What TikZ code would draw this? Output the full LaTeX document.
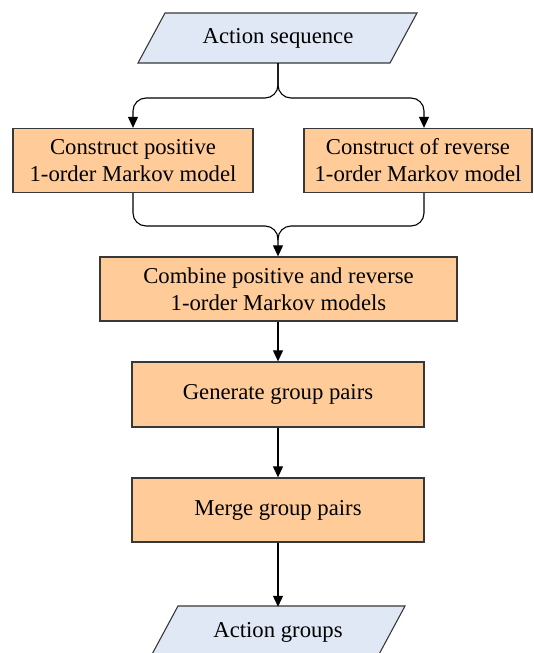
\documentclass[tikz,border=0pt]{standalone}
\usepackage{fontspec}
\setmainfont{Liberation Serif}
\usetikzlibrary{arrows.meta,calc}
\definecolor{boxfill}{HTML}{FFCC99}
\definecolor{iofill}{HTML}{E0E8F5}
\definecolor{edge}{HTML}{383838}
\tikzset{
  procbox/.style={draw=edge, line width=1.3pt, fill=boxfill, align=center, inner sep=0pt,
    font=\fontsize{22.7pt}{27pt}\selectfont},
  iotext/.style={inner sep=0pt, font=\fontsize{22.7pt}{27pt}\selectfont, minimum height=50pt},
  iobox/.style={draw=edge, line width=1.1pt, fill=iofill},
  arr/.style={draw=black, line width=1.1pt, -{Triangle[width=10pt,length=11pt]}},
  link/.style={draw=black, line width=1.1pt}
}
\begin{document}
\begin{tikzpicture}[x=1pt,y=-1pt]
\useasboundingbox (0,0) rectangle (534,653);
% input parallelogram
\filldraw[iobox] (138,63) -- (165,13) -- (417,13) -- (390,63) -- cycle;
\node[iotext] (seq) at (278,38) {Action sequence};
% first level boxes
\node[procbox, minimum width=240pt, minimum height=64pt] (lb) at (133,160.5) {Construct positive\\1-order Markov model};
\node[procbox, minimum width=228pt, minimum height=64pt] (rb) at (418,160.5) {Construct of reverse\\1-order Markov model};
\coordinate (rx) at (424,0);
\coordinate (split) at (278,98);
\coordinate (join) at (278,226);
% combine
\node[procbox, minimum width=357pt, minimum height=64pt] (comb) at (278.5,289) {Combine positive and reverse\\1-order Markov models};
\node[procbox, minimum width=292pt, minimum height=65pt] (gen) at (278,394.5) {Generate group pairs};
\node[procbox, minimum width=292pt, minimum height=64pt] (mrg) at (278,510) {Merge group pairs};
% output parallelogram
\filldraw[iobox] (150,658) -- (178,606) -- (405,606) -- (377,658) -- cycle;
\node[iotext] (grp) at (278,632) {Action groups};
% connectors
\draw[arr, rounded corners=13pt] (seq.south) |- (split -| lb.north) -- (lb.north);
\draw[arr, rounded corners=13pt] (seq.south) |- (split -| rx) -- (rb.north -| rx);
\draw[arr, rounded corners=13pt] (lb.south) |- (join) -- (comb.north -| join);
\draw[link, rounded corners=13pt] (rb.south -| rx) |- (join) -- ($(join)+(0,14)$);
\draw[arr] (comb.south -| gen.north) -- (gen.north);
\draw[arr] (gen.south) -- (mrg.north);
\draw[arr] (mrg.south) -- (grp.north);
\end{tikzpicture}
\end{document}
